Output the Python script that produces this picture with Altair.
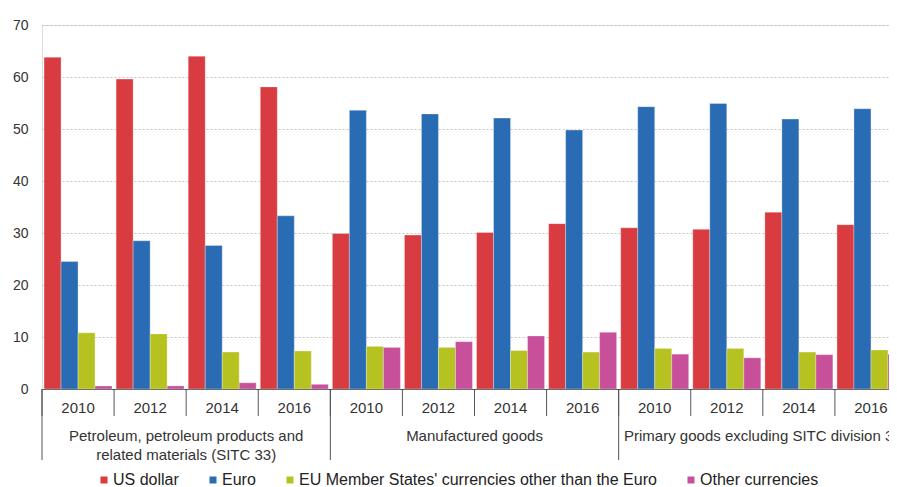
import altair as alt
import pandas as pd

categories = [
    "Petroleum, petroleum products and related materials (SITC 33)",
    "Manufactured goods",
    "Primary goods excluding SITC division 33",
]
category_labels = [
    "Petroleum, petroleum products and\nrelated materials (SITC 33)",
    "Manufactured goods",
    "Primary goods excluding SITC division 33",
]
years = ["2010", "2012", "2014", "2016"]
currencies = [
    "US dollar",
    "Euro",
    "EU Member States' currencies other than the Euro",
    "Other currencies",
]
colors = ["#d83c41", "#2a6cb3", "#b6c21f", "#c8509a"]

# values per group: Petroleum 2010..2016, Manufactured 2010..2016, Primary 2010..2016
us_dollar = [63.8, 59.6, 64.0, 58.1, 29.9, 29.6, 30.1, 31.8, 31.0, 30.7, 34.0, 31.6]
euro = [24.5, 28.5, 27.6, 33.3, 53.6, 52.9, 52.1, 49.8, 54.3, 54.9, 51.9, 53.9]
eu_other = [10.8, 10.6, 7.1, 7.3, 8.2, 8.0, 7.4, 7.1, 7.8, 7.8, 7.1, 7.5]
other = [0.6, 0.6, 1.2, 0.9, 8.0, 9.1, 10.2, 10.9, 6.7, 6.0, 6.6, 6.7]

series = [us_dollar, euro, eu_other, other]
groups = [f"{ci}|{yr}" for ci in range(len(categories)) for yr in years]

rows = []
for k, g in enumerate(groups):
    for cur, vals in zip(currencies, series):
        rows.append({"group": g, "currency": cur, "value": vals[k]})
df = pd.DataFrame(rows)

ticks_df = pd.DataFrame({"group": groups})
sep_df = pd.DataFrame({"group": [f"{ci}|{years[0]}" for ci in range(len(categories))]})
cat_df = pd.DataFrame({"group": [f"{ci}|{years[1]}" for ci in range(len(categories))],
                       "label": category_labels})

W, H = 855, 364
x_scale = alt.Scale(domain=groups, paddingInner=0, paddingOuter=0, range=[0, 865])
x_axis = alt.Axis(title=None, labelExpr="split(datum.label, '|')[1]", ticks=False,
                  domain=True, domainColor="#555555", domainWidth=1.2, labelFontSize=15,
                  labelColor="#333333", labelPadding=11, labelAngle=0, grid=False)

bars = alt.Chart(df).mark_bar(stroke="white", strokeWidth=0.6, strokeOpacity=0.5).encode(
    x=alt.X("group:N", scale=x_scale, axis=x_axis),
    xOffset=alt.XOffset("currency:N", sort=currencies,
                        scale=alt.Scale(domain=currencies, paddingOuter=0.12, paddingInner=0)),
    y=alt.Y("value:Q", scale=alt.Scale(domain=[0, 70], nice=False),
            axis=alt.Axis(title=None, values=list(range(0, 80, 10)), grid=True,
                          gridDash=[2, 2], gridColor="#c4c4c4", domain=False, ticks=False,
                          labelFontSize=14, labelPadding=14, labelColor="#333333")),
    color=alt.Color("currency:N", sort=currencies,
                    scale=alt.Scale(domain=currencies, range=colors),
                    legend=alt.Legend(title=None, orient="none", legendX=54, legendY=447,
                                      direction="horizontal", symbolType="square",
                                      symbolSize=49, symbolStrokeWidth=0, labelFontSize=16,
                                      labelColor="#222222", labelOffset=1, columnPadding=26,
                                      labelLimit=600)),
)

tick_rules = alt.Chart(ticks_df).mark_rule(color="#555555", strokeWidth=1).encode(
    x=alt.X("group:N", scale=x_scale, bandPosition=0, axis=x_axis),
    y=alt.value(H), y2=alt.value(H + 27),
)

sep_rules = alt.Chart(sep_df).mark_rule(color="#555555", strokeWidth=1).encode(
    x=alt.X("group:N", scale=x_scale, bandPosition=0, axis=x_axis),
    y=alt.value(H), y2=alt.value(H + 71),
)

cat_text = alt.Chart(cat_df).mark_text(lineBreak="\n", baseline="top", fontSize=15,
                                       color="#333333", lineHeight=18.5).encode(
    x=alt.X("group:N", scale=x_scale, bandPosition=1, axis=x_axis),
    y=alt.value(H + 40),
    text="label:N",
)

chart = alt.layer(bars, tick_rules, sep_rules, cat_text).properties(
    width=W, height=H,
    autosize=alt.AutoSizeParams(type="none"),
    padding={"left": 34, "top": 17, "right": -8, "bottom": 98},
).configure_view(stroke=None).configure(font="Liberation Sans")

chart.save("out.html", embed_options={"renderer": "svg", "actions": False})
